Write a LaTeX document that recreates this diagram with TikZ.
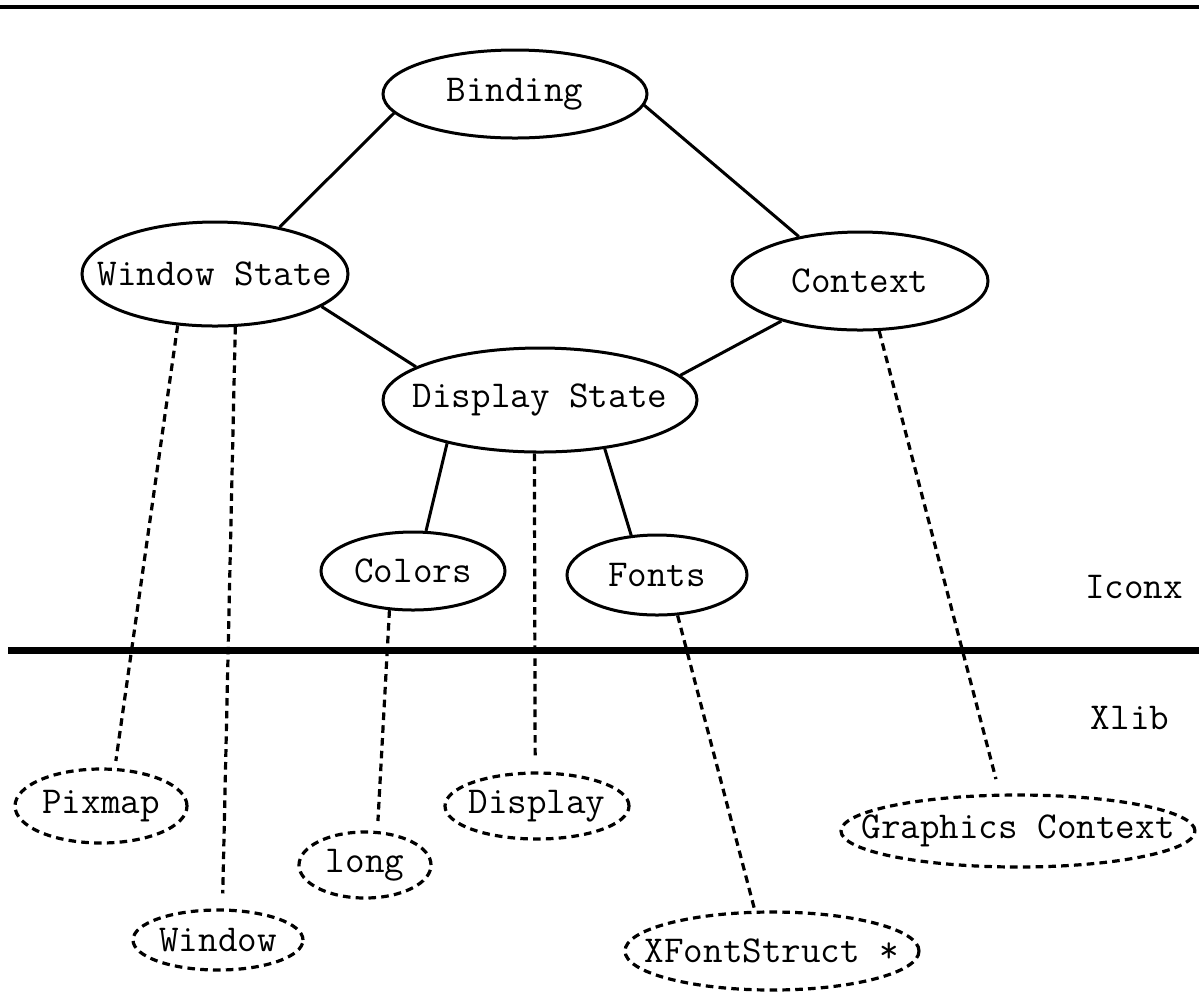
\documentclass[tikz,border=0pt]{standalone}
\usepackage{fontspec}
\usetikzlibrary{shapes.geometric}

\tikzset{
  state/.style={ellipse, draw, line width=1.5pt, inner sep=0pt, font=\ttfamily\fontsize{19}{22}\selectfont},
  xtype/.style={ellipse, draw, line width=1.6pt, dash pattern=on 3.8pt off 2.6pt, inner sep=0pt, font=\ttfamily\fontsize{19}{22}\selectfont},
  link/.style={line width=1.5pt},
  xlink/.style={line width=1.6pt, dash pattern=on 3.8pt off 2.6pt},
  layer/.style={inner sep=0pt, font=\ttfamily\fontsize{19}{22}\selectfont}
}

\begin{document}
\begin{tikzpicture}[x=0.5pt,y=0.5pt,yscale=-1,xscale=1]
\useasboundingbox (0,0) rectangle (1199,993);

%Straight Lines [top rule]
\draw [line width=2pt] (0,7) -- (1199,7) ;
%Straight Lines [layer rule]
\draw [line width=3.5pt] (8,650) -- (1199,650) ;

%Shape: Ellipse [Iconx side]
\node [state, minimum width=132pt, minimum height=44pt] (binding) at (515,94) {\makebox[0pt]{Binding}};
\node [state, minimum width=133pt, minimum height=52pt] (winstate) at (215,274) {\makebox[0pt]{Window State}};
\node [state, minimum width=128pt, minimum height=49pt] (context) at (860,281) {\makebox[0pt]{Context}};
\node [state, minimum width=157pt, minimum height=52pt] (dispstate) at (540,400) {\makebox[0pt]{Display State}};
\node [state, minimum width=92pt, minimum height=39pt] (colors) at (413,571) {\makebox[0pt]{Colors}};
\node [state, minimum width=90pt, minimum height=40pt] (fonts) at (657,575) {\makebox[0pt]{Fonts}};

%Shape: Ellipse [Xlib side]
\node [xtype, minimum width=86pt, minimum height=37pt] (pixmap) at (101,806) {\makebox[0pt]{Pixmap}};
\node [xtype, minimum width=85pt, minimum height=30pt] (window) at (218,940) {\makebox[0pt]{Window}};
\node [xtype, minimum width=66pt, minimum height=33pt] (long) at (365,865) {\makebox[0pt]{long}};
\node [xtype, minimum width=92pt, minimum height=33pt] (display) at (537,806) {\makebox[0pt]{Display}};
\node [xtype, minimum width=147pt, minimum height=39pt] (xfont) at (772,951) {\makebox[0pt]{XFontStruct *}};
\node [xtype, minimum width=177pt, minimum height=36pt] (gc) at (1018,831) {\makebox[0pt]{Graphics Context}};

% Text Node
\node [layer] (iconx) at (1134,587) {Iconx};
% Text Node
\node [layer] (xlib) at (1130,718) {Xlib};

%Straight Lines [solid]
\draw [link] (binding.189) -- (winstate.36) ;
\draw [link] (binding.355) -- (context.144) ;
\draw [link] (winstate.343) -- (dispstate.165) ;
\draw [link] (context.207.5) -- (dispstate.10) ;
\draw [link] (dispstate.205) -- (colors.72) ;
\draw [link] (dispstate.323) -- (fonts.123) ;

%Straight Lines [dashed]
\draw [xlink, shorten >=3.5pt] (winstate.234) -- (pixmap.70) ;
\draw [xlink, shorten >=7.5pt] (winstate.291) -- (window.82) ;
\draw [xlink, shorten >=6.5pt] (dispstate.264.5) -- (display.93) ;
\draw [xlink, shorten >=5pt] (colors.239.5) -- (long.70) ;
\draw [xlink] (fonts.297) -- (xfont.113.5) ;
\draw [xlink, shorten >=7.5pt] (context.291) -- (gc.116.6) ;

\end{tikzpicture}
\end{document}
